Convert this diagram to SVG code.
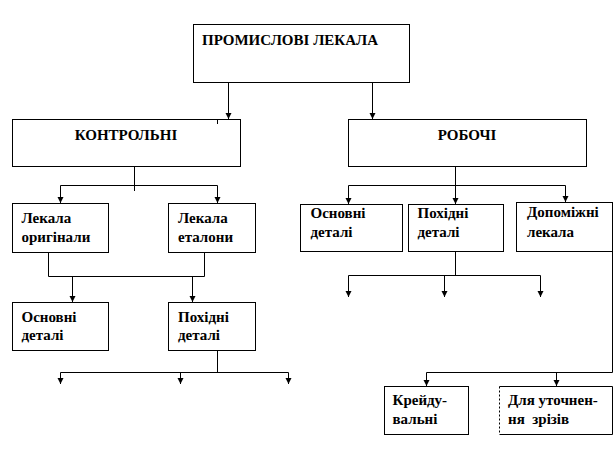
<svg xmlns="http://www.w3.org/2000/svg" width="615" height="459" viewBox="0 0 615 459">
<style>
.box{fill:#fff;stroke:#000;stroke-width:1}
.t{font-family:'Liberation Serif',serif;font-weight:700;font-size:15px;fill:#000;white-space:pre}
.c{fill:none;stroke:#000;stroke-width:1}
</style>
<defs>
<marker id="ah" markerUnits="userSpaceOnUse" markerWidth="7" markerHeight="7" refX="6" refY="3.5" orient="auto">
<path d="M0,0.5 L6,3.5 L0,6.5 z" fill="#000"/>
</marker>
</defs>
<rect width="615" height="459" fill="#fff"/>
<g id="connectors">
<path class="c" d="M228.5,83 V119" marker-end="url(#ah)"/>
<path class="c" d="M372.5,83 V119" marker-end="url(#ah)"/>
<path class="c" d="M134.5,167 V191 M60.5,185.5 H217.5"/>
<path class="c" d="M60.5,185.5 V203" marker-end="url(#ah)"/>
<path class="c" d="M217.5,185.5 V203" marker-end="url(#ah)"/>
<path class="c" d="M48.5,253 V276.5 H204.5 V253"/>
<path class="c" d="M72.5,276.5 V302" marker-end="url(#ah)"/>
<path class="c" d="M192.5,276.5 V302" marker-end="url(#ah)"/>
<path class="c" d="M217.5,351 V372.5 M60.5,372.5 H288.5"/>
<path class="c" d="M60.5,372.5 V384" marker-end="url(#ah)"/>
<path class="c" d="M180.5,372.5 V384" marker-end="url(#ah)"/>
<path class="c" d="M288.5,372.5 V384" marker-end="url(#ah)"/>
<path class="c" d="M455.5,167 V204" marker-end="url(#ah)"/>
<path class="c" d="M348.5,185.5 H565.5"/>
<path class="c" d="M348.5,185.5 V204" marker-end="url(#ah)"/>
<path class="c" d="M565.5,185.5 V202" marker-end="url(#ah)"/>
<path class="c" d="M455.5,252 V275.5 M348.5,275.5 H540.5"/>
<path class="c" d="M348.5,275.5 V297" marker-end="url(#ah)"/>
<path class="c" d="M444.5,275.5 V297" marker-end="url(#ah)"/>
<path class="c" d="M540.5,275.5 V297" marker-end="url(#ah)"/>
<path class="c" d="M612.5,252 V372.5 H426.5"/>
<path class="c" d="M426.5,372.5 V386" marker-end="url(#ah)"/>
<path class="c" d="M556.5,372.5 V386" marker-end="url(#ah)"/>
</g>
<g id="n-promyslovi">
<rect class="box" x="193.5" y="24.5" width="216" height="58"/>
<text class="t" x="202" y="45">ПРОМИСЛОВІ ЛЕКАЛА</text>
</g>
<g id="n-kontrolni">
<rect class="box" x="12.5" y="119.5" width="228" height="47"/>
<line class="c" x1="217.5" y1="120" x2="217.5" y2="124"/>
<text class="t" x="126" y="140" text-anchor="middle">КОНТРОЛЬНІ</text>
</g>
<g id="n-robochi">
<rect class="box" x="348.5" y="119.5" width="238" height="47"/>
<text class="t" x="467" y="140" text-anchor="middle">РОБОЧІ</text>
</g>
<g id="n-lekala-oryhinaly">
<rect class="box" x="12.5" y="203.5" width="96" height="49"/>
<text class="t" x="21.5" y="223">Лекала</text>
<text class="t" x="21.5" y="241.5">оригінали</text>
</g>
<g id="n-lekala-etalony">
<rect class="box" x="168.5" y="203.5" width="87" height="49"/>
<text class="t" x="178" y="223">Лекала</text>
<text class="t" x="178" y="241.5">еталони</text>
</g>
<g id="n-osnovni-k">
<rect class="box" x="12.5" y="302.5" width="96" height="48"/>
<text class="t" x="21.5" y="321.5">Основні</text>
<text class="t" x="21.5" y="340">деталі</text>
</g>
<g id="n-pokhidni-k">
<rect class="box" x="168.5" y="302.5" width="87" height="48"/>
<text class="t" x="178" y="321.5">Похідні</text>
<text class="t" x="178" y="340">деталі</text>
</g>
<g id="n-osnovni-r">
<rect class="box" x="300.5" y="204.5" width="102" height="47"/>
<text class="t" x="310.5" y="218">Основні</text>
<text class="t" x="310.5" y="236.5">деталі</text>
</g>
<g id="n-pokhidni-r">
<rect class="box" x="408.5" y="204.5" width="95" height="47"/>
<text class="t" x="417.5" y="218">Похідні</text>
<text class="t" x="417.5" y="236.5">деталі</text>
</g>
<g id="n-dopomizhni">
<rect class="box" x="516.5" y="202.5" width="96" height="49"/>
<text class="t" x="527" y="216.5">Допоміжні</text>
<text class="t" x="527" y="236.5">лекала</text>
</g>
<g id="n-kreiduvalni">
<rect class="box" x="384.5" y="386.5" width="84" height="48"/>
<text class="t" x="392.5" y="405">Крейду-</text>
<text class="t" x="392.5" y="423.5">вальні</text>
</g>
<g id="n-dlia-utochnennia">
<rect x="499.5" y="386.5" width="113" height="48" fill="#fff" stroke="none"/>
<path class="c" d="M499.5,386.5 H612.5 V434.5 H499.5"/>
<path class="c" d="M499.5,386.5 V434.5" stroke-dasharray="2,2"/>
<text class="t" x="508" y="405">Для уточнен-</text>
<text class="t" x="508" y="423.5" xml:space="preserve">ня  зрізів</text>
</g>
</svg>
